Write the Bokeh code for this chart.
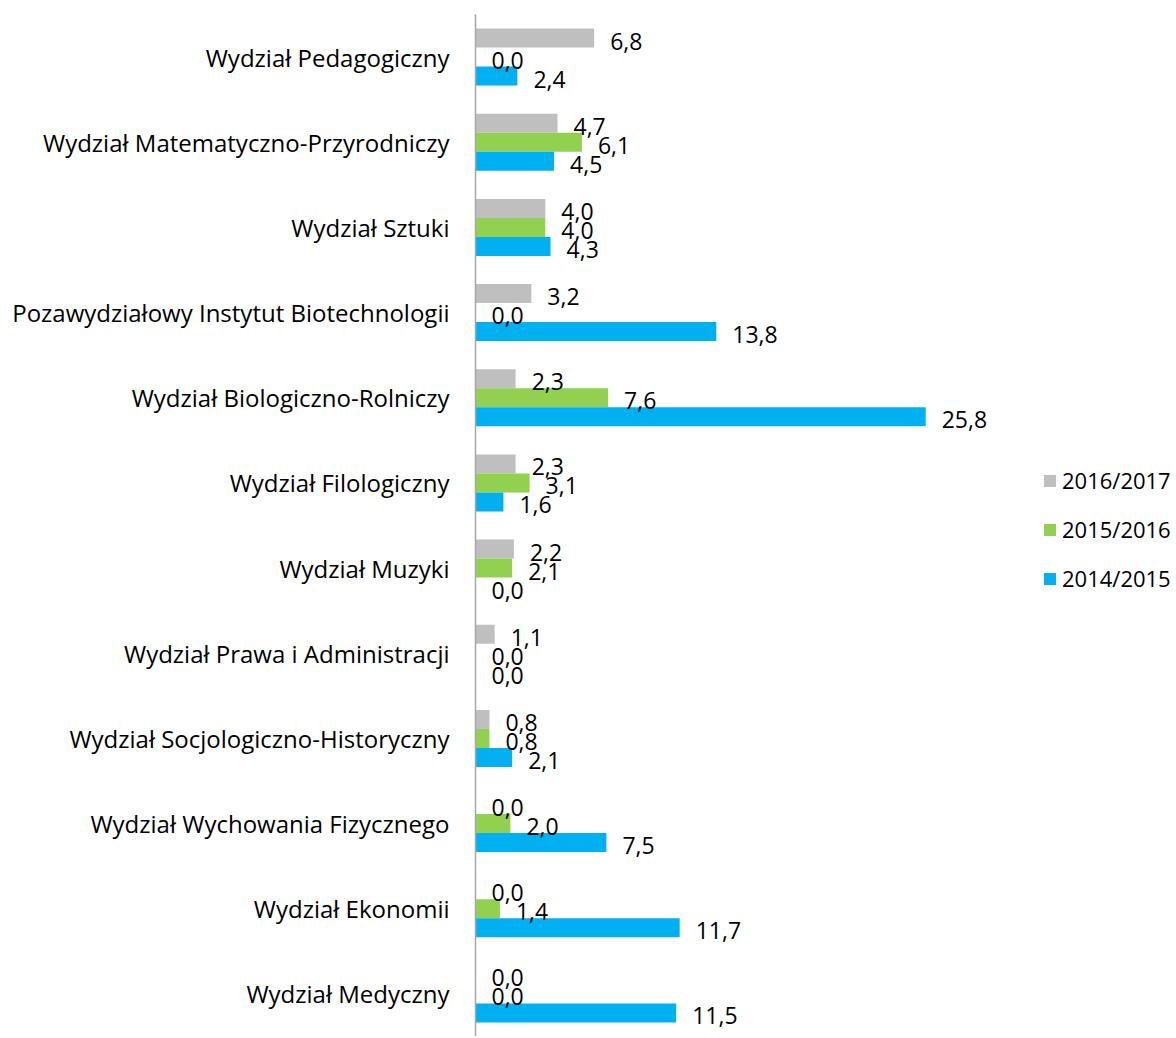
from bokeh.plotting import figure
from bokeh.models import ColumnDataSource, Legend, LegendItem, FactorRange
from bokeh.transform import dodge
from bokeh.core.properties import value
from bokeh.embed import file_html
from bokeh.resources import INLINE

categories = [
    "Wydział Pedagogiczny",
    "Wydział Matematyczno-Przyrodniczy",
    "Wydział Sztuki",
    "Pozawydziałowy Instytut Biotechnologii",
    "Wydział Biologiczno-Rolniczy",
    "Wydział Filologiczny",
    "Wydział Muzyki",
    "Wydział Prawa i Administracji",
    "Wydział Socjologiczno-Historyczny",
    "Wydział Wychowania Fizycznego",
    "Wydział Ekonomii",
    "Wydział Medyczny",
]
series_names = ["2016/2017", "2015/2016", "2014/2015"]
v_2016_2017 = [6.8, 4.7, 4.0, 3.2, 2.3, 2.3, 2.2, 1.1, 0.8, 0.0, 0.0, 0.0]
v_2015_2016 = [0.0, 6.1, 4.0, 0.0, 7.6, 3.1, 2.1, 0.0, 0.8, 2.0, 1.4, 0.0]
v_2014_2015 = [2.4, 4.5, 4.3, 13.8, 25.8, 1.6, 0.0, 0.0, 2.1, 7.5, 11.7, 11.5]
colors = ["#BFBFBF", "#92D050", "#00B0F0"]

FONT = "Open Sans"
PX_PER_UNIT = 17.45
W, H = 1176, 1036
BL = 475
x_end = (W - BL) / PX_PER_UNIT

p = figure(
    width=W, height=H, output_backend="svg", toolbar_location=None,
    y_range=FactorRange(factors=list(reversed(categories)), range_padding=0),
    x_range=(0, x_end),
    min_border_left=BL, min_border_right=0, min_border_top=14, min_border_bottom=0,
)
p.outline_line_color = None
p.xgrid.visible = False
p.ygrid.visible = False
p.xaxis.visible = False
p.yaxis.axis_line_color = "#A6A6A6"
p.yaxis.axis_line_width = 1.5
p.yaxis.major_tick_line_color = None
p.yaxis.minor_tick_line_color = None
p.yaxis.major_label_standoff = 20
p.yaxis.major_label_text_font = FONT
p.yaxis.major_label_text_font_size = "24px"
p.yaxis.major_label_text_color = "#000000"

BH = 0.223
offsets = [BH, 0.0, -BH]
all_vals = [v_2016_2017, v_2015_2016, v_2014_2015]
sources = []
renderers = []
for name, vals, col, off in zip(series_names, all_vals, colors, offsets):
    src = ColumnDataSource(dict(
        cat=categories, val=vals,
        lbl=[f"{v:.1f}".replace(".", ",") for v in vals],
    ))
    sources.append((src, off))
    r = p.hbar(y=dodge("cat", off, range=p.y_range), left=0, right="val", height=BH,
               fill_color=col, line_color=None, source=src)
    renderers.append((name, r))

for src, off in sources:
    p.text(x="val", y=dodge("cat", off, range=p.y_range), text="lbl", source=src,
           x_offset=16, y_offset=3, text_align="left", text_baseline="middle",
           text_font=value(FONT), text_font_size="23px", text_color="#000000")

legend = Legend(
    items=[LegendItem(label=n, renderers=[r]) for n, r in renderers],
    location=(567, 443),
    orientation="vertical",
    glyph_width=15, glyph_height=15, label_standoff=5,
    spacing=19, padding=0, margin=0,
    border_line_alpha=0, background_fill_alpha=0,
    label_text_font=FONT, label_text_font_size="22px", label_text_color="#000000",
)
p.add_layout(legend, "center")

open("out.html", "w").write(file_html(p, INLINE))
